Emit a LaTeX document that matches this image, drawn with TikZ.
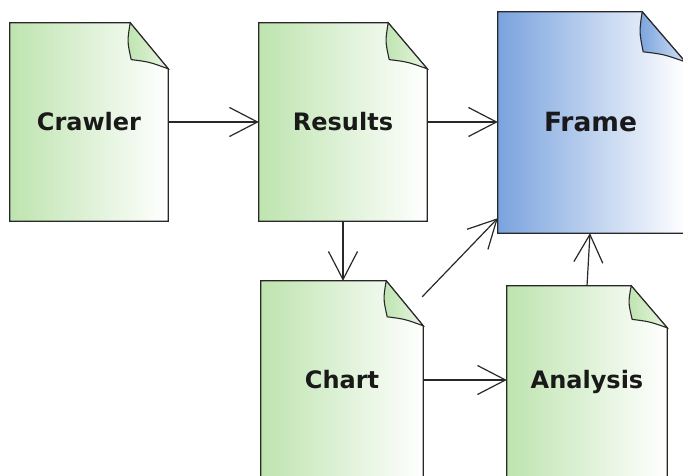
\documentclass[tikz,border=0pt]{standalone}
\usepackage{fontspec}
\setmainfont{DejaVu Sans}
\usetikzlibrary{arrows.meta}
\definecolor{docgreen}{RGB}{190,228,175}
\definecolor{docblue}{RGB}{122,163,222}
\definecolor{edge}{RGB}{40,40,40}
\tikzset{
  docnode/.style={draw=none, inner sep=0pt, font=\bfseries\fontsize{24}{28}\selectfont, text=black!90},
  arr/.style={draw=edge, line width=1.2pt, -{Straight Barb[length=28pt,width=29pt,line width=1.2pt]}},
  docline/.style={draw=edge, line width=1.3pt, line join=miter},
}
% #1 node, #2 colour, #3 fold width, #4 fold height
\newcommand{\DocShape}[4]{%
  \path[docline, left color=#2, right color=white]
    (#1.north west) -- ([xshift=-#3]#1.north east) -- ([yshift=-#4]#1.north east)
    -- (#1.south east) -- (#1.south west) -- cycle;
  \path[docline, line width=1.1pt, left color=#2, right color=#2!35!white]
    ([xshift=-#3]#1.north east)
    .. controls ([xshift=-#3-3pt,yshift=-0.4*#4]#1.north east) .. ([xshift=-#3+1pt,yshift=-0.8*#4]#1.north east)
    .. controls ([xshift=-0.5*#3,yshift=-0.85*#4]#1.north east) .. ([yshift=-#4]#1.north east)
    -- cycle;
}
\begin{document}
\begin{tikzpicture}[x=1pt,y=-1pt]
\useasboundingbox (0,0) rectangle (683,476);
\clip (0,0) rectangle (683,476);
\fill[white] (0,0) rectangle (683,476);
\node[docnode, minimum width=158pt, minimum height=198pt] (crawler) at (89,122) {};
\node[docnode, minimum width=168pt, minimum height=198pt] (results) at (343,122) {};
\node[docnode, minimum width=187pt, minimum height=221pt] (frame) at (591.5,122.5) {};
\node[docnode, minimum width=162pt, minimum height=198pt] (chart) at (342,380) {};
\node[docnode, minimum width=160pt, minimum height=192pt] (analysis) at (587,382) {};
\DocShape{crawler}{docgreen}{38pt}{46pt}
\DocShape{results}{docgreen}{39pt}{46pt}
\DocShape{frame}{docblue}{43pt}{50pt}
\DocShape{chart}{docgreen}{37pt}{45pt}
\DocShape{analysis}{docgreen}{36pt}{42pt}
\node[docnode] at (crawler.center) {Crawler};
\node[docnode] at (results.center) {Results};
\node[docnode, font=\bfseries\fontsize{26.5}{30}\selectfont] at ([xshift=-1pt]frame.center) {Frame};
\node[docnode] at (chart.center) {Chart};
\node[docnode] at (analysis.center) {Analysis};
\draw[arr] (crawler.east) -- (results.west);
\draw[arr] (results.east) -- (frame.west |- results.east);
\draw[arr] (results.south) -- (results.south |- chart.north);
\draw[arr] ([xshift=-1pt,yshift=-16pt]chart.north east) -- ([yshift=15pt]frame.south west);
\draw[arr] (chart.east) -- (analysis.west |- chart.east);
\draw[arr] (analysis.north) -- ([xshift=3pt]analysis.north |- frame.south);
\end{tikzpicture}
\end{document}
